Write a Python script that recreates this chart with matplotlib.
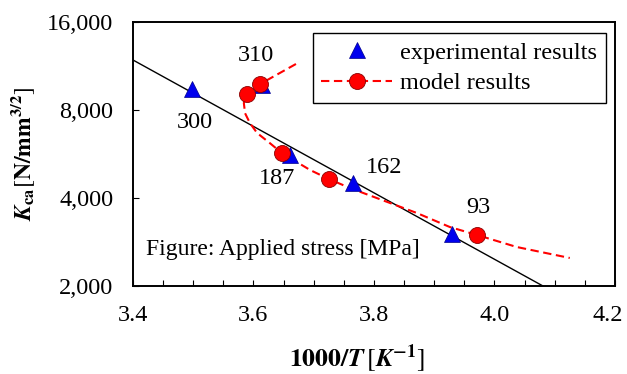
import matplotlib
matplotlib.use("Agg")
import matplotlib.pyplot as plt
from matplotlib.lines import Line2D
from matplotlib.ticker import FixedLocator, FuncFormatter
from matplotlib.transforms import ScaledTranslation

plt.rcParams['font.family'] = ['Liberation Serif', 'DejaVu Serif']
plt.rcParams['mathtext.fontset'] = 'stix'

# experimental results
exp_x = [3.498, 3.614, 3.661, 3.765, 3.929]
exp_y = [9440, 9740, 5610, 4500, 3010]

# model results (markers)
mod_x = [3.589, 3.611, 3.647, 3.725, 3.971]
mod_y = [9075, 9815, 5700, 4646, 2989]

# model curve (dashed)
curve_x = [3.6705, 3.611, 3.589, 3.584, 3.586, 3.594, 3.606, 3.627, 3.647, 3.694, 3.725, 3.760, 3.871, 3.926, 3.971, 4.037, 4.125]
curve_y = [11494, 9815, 9075, 8453, 7800, 7222, 6674, 6168, 5700, 4986, 4646, 4328, 3555, 3182, 2989, 2719, 2494]

# Arrhenius fit line
fit_x = [3.4, 4.0805]
fit_y = [11860, 2000]

# stress labels
stress_labels = ['310', '300', '187', '162', '93']
label_x = [3.6045, 3.503, 3.639, 3.816, 3.973]
label_y = [12336, 7222, 4682, 5106, 3697]

# axis ticks
x_ticks = [3.4, 3.6, 3.8, 4.0, 4.2]
x_minor = [3.45, 3.5, 3.55, 3.65, 3.7, 3.75, 3.85, 3.9, 3.95, 4.05, 4.1, 4.15]
y_ticks = [2000, 4000, 8000, 16000]

FS = 17.5

fig = plt.figure(figsize=(6.27, 3.74), dpi=100)
ax = fig.add_axes([0.2121, 0.2353, 0.7687, 0.7059])

ax.plot(fit_x, fit_y, color='black', lw=1.0, zorder=2)
ax.plot(curve_x, curve_y, color='#ff0000', lw=1.5, ls=(0, (4, 2.2)), zorder=3)
ax.plot(exp_x, exp_y, ls='none', marker='^', ms=12, color='#0000ee', mec='#00008b', mew=0.5, zorder=4)
ax.plot(mod_x, mod_y, ls='none', marker='o', ms=11.5, color='#ff0000', mec='#8b0000', mew=0.6, zorder=5)

for t, x, y in zip(stress_labels, label_x, label_y):
    ax.text(x, y, t, fontsize=FS, ha='center', va='center')

ax.text(0.027, 0.14, 'Figure: Applied stress [MPa]', transform=ax.transAxes, fontsize=FS - 0.5,
        ha='left', va='center')

ax.set_yscale('log')
ax.set_xlim(3.4, 4.2)
ax.set_ylim(2000, 16000)
ax.yaxis.set_major_locator(FixedLocator(y_ticks))
ax.yaxis.set_minor_locator(FixedLocator([]))
ax.yaxis.set_major_formatter(FuncFormatter(lambda v, p: f'{int(round(v)):,}'))
ax.xaxis.set_major_locator(FixedLocator(x_ticks))
ax.xaxis.set_minor_locator(FixedLocator(x_minor))
ax.xaxis.set_major_formatter(FuncFormatter(lambda v, p: f'{v:.1f}'))

ax.tick_params(axis='both', which='both', direction='in', labelsize=FS, width=0.8)
ax.tick_params(axis='x', which='both', length=4, pad=14, top=False)
ax.tick_params(axis='y', which='both', length=4, pad=14, right=False)
for s in ax.spines.values():
    s.set_linewidth(1.4)

# nudge last x tick label so it stays inside the figure
last = ax.xaxis.get_major_ticks()[-1]
last.label1.set_transform(last.label1.get_transform() + ScaledTranslation(-5 / 72, 0, fig.dpi_scale_trans))

ax.set_ylabel(r'$\mathbfit{K}_{\mathbf{ca}}\left[\mathbf{N/mm}^{\mathbf{3/2}}\right]$', fontsize=17)
ax.yaxis.set_label_coords(-0.2, 0.5)
ax.set_xlabel(r'$\mathbf{1000/}\mathbfit{T}\,\left[\mathbfit{K}^{\mathbf{-1}}\right]$', fontsize=18.5)
ax.xaxis.set_label_coords(0.465, -0.215)

h1 = Line2D([], [], ls='none', marker='^', ms=12, color='#0000ee', mec='#00008b', mew=0.5)
h2 = Line2D([], [], color='#ff0000', lw=1.5, ls=(0, (4, 2.2)), marker='o', ms=11.5, mfc='#ff0000',
            mec='#8b0000', mew=0.6)
leg = ax.legend([h1, h2], ['experimental results', 'model results'], loc='upper right',
                bbox_to_anchor=(0.981, 0.958), borderaxespad=0, fontsize=FS, frameon=True, fancybox=False,
                edgecolor='black', framealpha=1, handlelength=2.9, borderpad=0.35, labelspacing=0.35,
                handletextpad=0.35)
leg.get_frame().set_linewidth(1.0)

fig.savefig('out.png', dpi=100)
